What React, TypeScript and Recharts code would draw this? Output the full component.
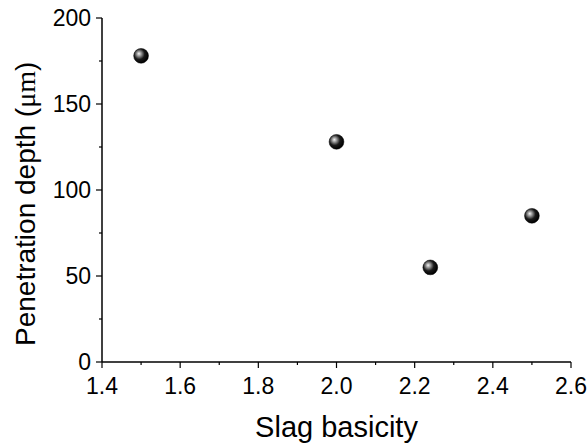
import React from 'react';
import { ScatterChart, Scatter, XAxis, YAxis, Label } from 'recharts';

const basicity = [1.5, 2.0, 2.24, 2.5];
const depth = [178, 128, 55, 85];
const xTicks = [1.4, 1.5, 1.6, 1.7, 1.8, 1.9, 2.0, 2.1, 2.2, 2.3, 2.4, 2.5, 2.6];
const yTicks = [0, 25, 50, 75, 100, 125, 150, 175, 200];

const data = basicity.map((b, i) => ({ x: b, y: depth[i] }));

const FONT = 'Arial, "Liberation Sans", sans-serif';

const isMajorX = (v: number) => Math.abs(Math.round(v * 10) % 2) === 0;
const isMajorY = (v: number) => v % 50 === 0;

const BottomTick = (props: any) => {
  const { x, y, payload } = props;
  const major = isMajorX(payload.value);
  return (
    <g>
      <line x1={x} x2={x} y1={y} y2={y + (major ? 6 : 3)} stroke="#000" strokeWidth={1.2} />
      {major && (
        <text x={x} y={y + 24} dy="0.36em" textAnchor="middle" fontSize={23} fontFamily={FONT} fill="#000">
          {payload.value.toFixed(1)}
        </text>
      )}
    </g>
  );
};

const LeftTick = (props: any) => {
  const { x, y, payload } = props;
  const major = isMajorY(payload.value);
  return (
    <g>
      <line x1={x - (major ? 6 : 3)} x2={x} y1={y} y2={y} stroke="#000" strokeWidth={1.2} />
      {major && (
        <text x={x - 11} y={y} dy="0.36em" textAnchor="end" fontSize={23} fontFamily={FONT} fill="#000">
          {payload.value}
        </text>
      )}
    </g>
  );
};

const TopTick = (props: any) => {
  const { x, y } = props;
  return <line x1={x} x2={x} y1={y} y2={y + 2} stroke="#000" strokeWidth={1} />;
};

const RightTick = (props: any) => {
  const { x, y } = props;
  return <line x1={x - 2} x2={x} y1={y} y2={y} stroke="#000" strokeWidth={1} />;
};

const Ball = (props: any) => {
  const { cx, cy } = props;
  return <circle cx={cx} cy={cy} r={7.4} fill="url(#ball)" stroke="#000" strokeWidth={0.5} />;
};

export default function App() {
  return (
    <div style={{ position: 'absolute', left: 0, top: 0 }}>
      <ScatterChart width={587} height={446} margin={{ top: 18, right: 16, bottom: 0, left: 0 }}>
        <defs>
          <radialGradient id="ball" cx="0.4" cy="0.4" r="0.6" fx="0.35" fy="0.35">
            <stop offset="0%" stopColor="#f4f4f4" />
            <stop offset="25%" stopColor="#9a9a9a" />
            <stop offset="60%" stopColor="#1a1a1a" />
            <stop offset="100%" stopColor="#000" />
          </radialGradient>
        </defs>
        <XAxis
          xAxisId="bottom"
          type="number"
          dataKey="x"
          domain={[1.4, 2.6]}
          ticks={xTicks}
          interval={0}
          height={84}
          tickSize={0}
          tickMargin={0}
          tickLine={false}
          axisLine={{ stroke: '#000', strokeWidth: 1.5 }}
          tick={<BottomTick />}
        >
          <Label
            content={(p: any) => (
              <text
                x={p.viewBox.x + p.viewBox.width / 2}
                y={437}
                textAnchor="middle"
                fontSize={29}
                fontFamily={FONT}
                fill="#000"
              >
                Slag basicity
              </text>
            )}
          />
        </XAxis>
        <XAxis
          xAxisId="top"
          orientation="top"
          type="number"
          dataKey="x"
          domain={[1.4, 2.6]}
          ticks={xTicks}
          interval={0}
          height={0}
          tickSize={0}
          tickMargin={0}
          tickLine={false}
          axisLine={{ stroke: '#000', strokeWidth: 1.5 }}
          tick={<TopTick />}
        />
        <YAxis
          yAxisId="left"
          type="number"
          dataKey="y"
          domain={[0, 200]}
          ticks={yTicks}
          interval={0}
          width={102}
          tickSize={0}
          tickMargin={0}
          tickLine={false}
          axisLine={{ stroke: '#000', strokeWidth: 1.5 }}
          tick={<LeftTick />}
        >
          <Label
            content={() => (
              <text
                x={25}
                y={346}
                transform="rotate(-90 25 346)"
                textAnchor="start"
                dominantBaseline="central"
                fontSize={28}
                fontFamily={FONT}
                fill="#000"
              >
                Penetration depth (<tspan fontFamily='"Liberation Serif", "Times New Roman", serif'>μm</tspan>)
              </text>
            )}
          />
        </YAxis>
        <YAxis
          yAxisId="right"
          orientation="right"
          type="number"
          dataKey="y"
          domain={[0, 200]}
          ticks={yTicks}
          interval={0}
          width={0}
          tickSize={0}
          tickMargin={0}
          tickLine={false}
          axisLine={{ stroke: '#000', strokeWidth: 1.5 }}
          tick={<RightTick />}
        />
        <Scatter
          data={data}
          xAxisId="bottom"
          yAxisId="left"
          shape={<Ball />}
          isAnimationActive={false}
        />
      </ScatterChart>
    </div>
  );
}
